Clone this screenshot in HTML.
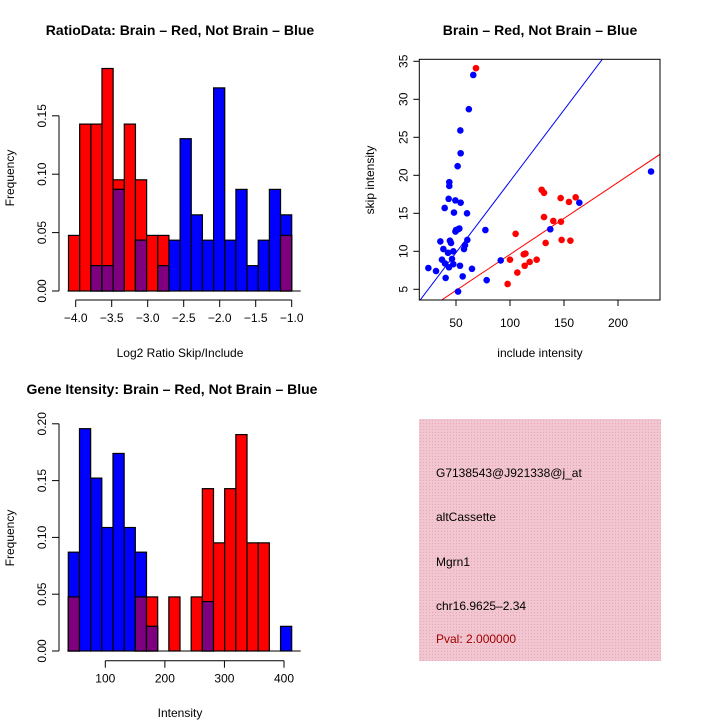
<!DOCTYPE html>
<html><head><meta charset="utf-8"><style>
body{margin:0;background:#fff}
svg{display:block;font-family:"Liberation Sans",sans-serif}
</style></head><body>
<svg id="s" width="720" height="720" xmlns="http://www.w3.org/2000/svg">
<defs><pattern id="hatch" width="3" height="3" patternUnits="userSpaceOnUse"><rect width="3" height="3" fill="#f2c6d0"/><rect width="1" height="1" fill="#e8a8b8"/></pattern></defs>
<text x="180" y="35" text-anchor="middle" font-size="14" font-weight="bold">RatioData: Brain – Red, Not Brain – Blue</text>
<text x="540" y="35" text-anchor="middle" font-size="14" font-weight="bold">Brain – Red, Not Brain – Blue</text>
<text x="172" y="394" text-anchor="middle" font-size="14" font-weight="bold">Gene Itensity: Brain – Red, Not Brain – Blue</text>
<text x="180" y="357" text-anchor="middle" font-size="12">Log2 Ratio Skip/Include</text>
<text x="540" y="357" text-anchor="middle" font-size="12">include intensity</text>
<text x="180" y="717" text-anchor="middle" font-size="12">Intensity</text>
<text transform="translate(14,178) rotate(-90)" text-anchor="middle" font-size="12">Frequency</text>
<text transform="translate(14,538) rotate(-90)" text-anchor="middle" font-size="12">Frequency</text>
<text transform="translate(374,180) rotate(-90)" text-anchor="middle" font-size="12">skip intensity</text>
<g id="g1"></g>
<g id="g2"></g>
<g id="g3"></g>
<g>
<rect x="419" y="419" width="242" height="242" fill="url(#hatch)"/>
<text x="436" y="477" font-size="12">G7138543@J921338@j_at</text>
<text x="436" y="521" font-size="12">altCassette</text>
<text x="436" y="566" font-size="12">Mgrn1</text>
<text x="436" y="610" font-size="12">chr16.9625–2.34</text>
<text x="436" y="643" font-size="12" fill="#a00000">Pval: 2.000000</text>
</g>
</svg>
<script>
const ratioRed=[0.0476,0.1429,0.1429,0.1905,0.0952,0.1429,0.0952,0.0476,0.0476,0,0,0,0,0,0,0,0,0,0,0.0476];
const ratioBlue=[0,0,0.0217,0.0217,0.087,0,0.0435,0,0.0217,0.0435,0.1304,0.0652,0.0435,0.1739,0.0435,0.087,0.0217,0.0435,0.087,0.0652];
const ratioXTicks=[-4.0,-3.5,-3.0,-2.5,-2.0,-1.5,-1.0];
const ratioYTicks=[0,0.05,0.10,0.15];
const intRed=[0.0476,0,0,0,0,0,0.0476,0.0476,0,0.0476,0,0.0476,0.1429,0.0952,0.1429,0.1905,0.0952,0.0952,0,0];
const intBlue=[0.087,0.1957,0.1522,0.1087,0.1739,0.1087,0.087,0.0217,0,0,0,0,0.0435,0,0,0,0,0,0,0.0217];
const intXTicks=[100,200,300,400];
const intYTicks=[0,0.05,0.10,0.15,0.20];
const blueX=[66,61.9,54,54.3,51.5,43.8,43.8,43.2,49.4,54.3,39.5,48.1,60.2,53.1,50,77.2,137.3,164.2,230.6,35.5,44.4,60.5,45.4,58.3,38.3,57.4,47.5,42.6,37,46.3,39.8,47.5,53.7,43.5,24.4,31.5,64.8,56.2,40.4,78.4,51.9,91.4,52,49.5];
const blueY=[33.2,28.7,25.9,22.9,21.2,19.1,18.6,16.9,16.7,16.4,15.7,15.1,15,13,12.8,12.8,12.9,16.4,20.5,11.3,11.4,11.5,11.1,10.8,10.3,10.3,10,9.8,8.9,9,8.4,8.3,8.1,7.9,7.8,7.4,7.7,6.7,6.5,6.2,4.7,8.8,12.9,12.6];
const redX=[68.5,129.3,131.5,146.9,160.8,154.6,131.5,140.1,147.2,105.2,133,147.8,155.9,112.7,114.3,118.2,113.6,124.7,100,106.8,97.8];
const redY=[34.1,18.1,17.7,17,17.1,16.5,14.5,14,13.9,12.3,11.1,11.5,11.4,9.6,9.7,8.6,8.1,8.9,8.9,7.2,5.7];
const scX=[50,100,150,200];
const scY=[5,10,15,20,25,30,35];
const blueFit=[0.43,0.1878];
const redFit=[0.11,0.0948];

const NS="http://www.w3.org/2000/svg";
function mk(p,t,a){const e=document.createElementNS(NS,t);for(const k in a)e.setAttribute(k,a[k]);p.appendChild(e);return e;}

function hist(g,red,blue,x0,x1,yS,xa,ya,xt,yt,axisY,fmtX,fmtY){
  const n=red.length;
  const xs=v=>xa.px0+(v-xa.v0)*xa.k;
  const ys=v=>ya.px0-v*yS;
  const bw=(x1-x0)/n;
  for(let i=0;i<n;i++){
    const lo=x0+i*bw, hi=lo+bw;
    const mn=Math.min(red[i],blue[i]);
    if(red[i]>0){const r=mk(g,'rect',{x:xs(lo),y:ys(red[i]),width:xs(hi)-xs(lo),height:red[i]*yS,fill:'#ff0000',stroke:'#000','stroke-width':1.2});
      }
    if(blue[i]>0){const b=mk(g,'rect',{x:xs(lo),y:ys(blue[i]),width:xs(hi)-xs(lo),height:blue[i]*yS,fill:'#0000ff',stroke:'#000','stroke-width':1.2});
      }
    if(mn>0){const p=mk(g,'rect',{x:xs(lo),y:ys(mn),width:xs(hi)-xs(lo),height:mn*yS,fill:'#7f007f',stroke:'#000','stroke-width':1.2});
      }
  }
  mk(g,'line',{x1:xs(x0)-1,x2:xs(x1)+9,y1:ya.px0,y2:ya.px0,stroke:'#000'});
  mk(g,'line',{x1:xs(xt[0]),x2:xs(xt[xt.length-1]),y1:axisY,y2:axisY,stroke:'#000'});
  xt.forEach(v=>{mk(g,'line',{x1:xs(v),x2:xs(v),y1:axisY,y2:axisY+7,stroke:'#000'});
    const t=mk(g,'text',{x:xs(v),y:axisY+22,'text-anchor':'middle','font-size':12});t.textContent=fmtX(v);
    });
  const ax=59;
  mk(g,'line',{x1:ax,x2:ax,y1:ys(yt[0]),y2:ys(yt[yt.length-1]),stroke:'#000'});
  yt.forEach(v=>{mk(g,'line',{x1:ax-7,x2:ax,y1:ys(v),y2:ys(v),stroke:'#000'});
    const t=mk(g,'text',{transform:`translate(${ax-13},${ys(v)}) rotate(-90)`,'text-anchor':'middle','font-size':12});t.textContent=fmtY(v);
    });
}
hist(document.getElementById('g1'),ratioRed,ratioBlue,-4.1,-1.0,1168,{px0:75.7,v0:-4,k:72},{px0:291},ratioXTicks,ratioYTicks,300,v=>v.toFixed(1).replace('-','\u2212'),v=>v.toFixed(2));
hist(document.getElementById('g2'),intRed,intBlue,37.9,412.9,1136,{px0:105.3,v0:100,k:0.5957},{px0:651},intXTicks,intYTicks,660.7,v=>String(v),v=>v.toFixed(2));

(function(){
  const g=document.getElementById('g3');
  const L=419.3,R=660,T=59.3,B=300;
  const xs=v=>456+(v-50)*1.08, ys=v=>289.3-(v-5)*7.6;
  const clip=mk(g.ownerSVGElement.querySelector('defs'),'clipPath',{id:'sc'});
  mk(clip,'rect',{x:L,y:T,width:R-L,height:B-T});
  const xv=[(L-456)/1.08+50,(R-456)/1.08+50];
  const bl=mk(g,'line',{x1:xs(xv[0]),y1:ys(blueFit[0]+blueFit[1]*xv[0]),x2:xs(xv[1]),y2:ys(blueFit[0]+blueFit[1]*xv[1]),stroke:'#0000ff','clip-path':'url(#sc)'});
  
  const rl=mk(g,'line',{x1:xs(xv[0]),y1:ys(redFit[0]+redFit[1]*xv[0]),x2:xs(xv[1]),y2:ys(redFit[0]+redFit[1]*xv[1]),stroke:'#ff0000','clip-path':'url(#sc)'});
  
  blueX.forEach((v,i)=>{const c=mk(g,'circle',{cx:xs(v),cy:ys(blueY[i]),r:3.3,fill:'#0000ff'});
    });
  redX.forEach((v,i)=>{const c=mk(g,'circle',{cx:xs(v),cy:ys(redY[i]),r:3.3,fill:'#ff0000'});
    });
  mk(g,'rect',{x:L,y:T,width:R-L,height:B-T,fill:'none',stroke:'#000'});
  scX.forEach(v=>{mk(g,'line',{x1:xs(v),x2:xs(v),y1:B,y2:B+6,stroke:'#000'});
    const t=mk(g,'text',{x:xs(v),y:B+27,'text-anchor':'middle','font-size':12});t.textContent=v;
    });
  scY.forEach(v=>{mk(g,'line',{x1:L-6,x2:L,y1:ys(v),y2:ys(v),stroke:'#000'});
    const t=mk(g,'text',{transform:`translate(${L-12},${ys(v)}) rotate(-90)`,'text-anchor':'middle','font-size':12});t.textContent=v;
    });
})();
</script>
</body></html>
